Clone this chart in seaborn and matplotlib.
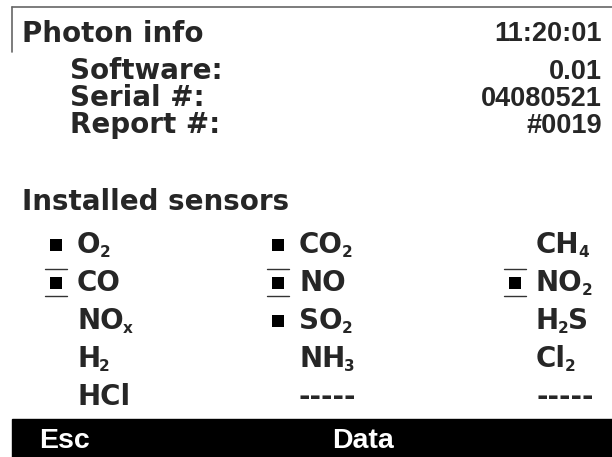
import matplotlib
matplotlib.use("Agg")
import matplotlib.pyplot as plt
import seaborn as sns
import pandas as pd

# screen texts
title = "Photon info"
clock = "11:20:01"
info_labels = ["Software:", "Serial #:", "Report #:"]
info_values = ["0.01", "04080521", "#0019"]
section = "Installed sensors"

# sensors, column by column (5 rows each); "_" marks a subscript character
sensor_names = ["O_2", "CO", "NO_x", "H_2", "HCl",
                "CO_2", "NO", "SO_2", "NH_3", "-----",
                "CH_4", "NO_2", "H_2S", "Cl_2", "-----"]
sensor_installed = [1, 1, 0, 0, 0,
                    1, 1, 1, 0, 0,
                    0, 1, 0, 0, 0]
sensor_selected = [0, 1, 0, 0, 0,
                   0, 1, 0, 0, 0,
                   0, 1, 0, 0, 0]
buttons = ["Esc", "Data"]

sns.set_theme(style="white")
plt.rcParams["font.family"] = ["DejaVu Sans"]
plt.rcParams["font.weight"] = "bold"

fig = plt.figure(figsize=(6.12, 4.57), dpi=100)
ax = fig.add_axes([0, 0, 1, 1])
ax.set_xlim(0, 612)
ax.set_ylim(457, 0)
ax.axis("off")
renderer = fig.canvas.get_renderer()

fs = 20
num_font = dict(family="Liberation Sans", fontsize=19.5, fontweight="bold")

# frame lines at the top
ax.plot([12, 612], [7, 7], color="#666666", lw=1.2)
ax.plot([12, 12], [7, 52], color="#666666", lw=1.2)

# header
ax.text(22, 42, title, fontsize=fs, fontweight="bold", va="baseline")
ax.text(602, 41, clock, va="baseline", ha="right", **num_font)
for i, (lab, val) in enumerate(zip(info_labels, info_values)):
    yb = 79 + 27 * i
    ax.text(70, yb, lab, fontsize=fs, fontweight="bold", va="baseline")
    ax.text(602, yb, val, va="baseline", ha="right", **num_font)

ax.text(22, 210, section, fontsize=fs, fontweight="bold", va="baseline")

# sensor grid
col_sq = [56, 278, 515]
row_c = [243, 281, 319, 357, 395]
df = pd.DataFrame({"name": sensor_names,
                   "installed": sensor_installed,
                   "selected": sensor_selected})
df["col"] = df.index // 5
df["row"] = df.index % 5
df["x"] = [col_sq[c] for c in df["col"]]
df["y"] = [row_c[r] + 2 for r in df["row"]]

sns.scatterplot(data=df[df["installed"] == 1], x="x", y="y", marker="s",
                s=70, color="black", edgecolor="none", legend=False, ax=ax)


def text_end(t):
    bb = t.get_window_extent(renderer=renderer)
    return bb.x1


for _, r in df.iterrows():
    x0 = r["x"] + 21
    yb = row_c[r["row"]] + 10
    name = r["name"]
    if "_" in name:
        base, rest = name.split("_", 1)
        sub, tail = rest[0], rest[1:]
    else:
        base, sub, tail = name, "", ""
    t = ax.text(x0, yb, base, fontsize=fs, fontweight="bold", va="baseline")
    if sub:
        ts = ax.text(text_end(t) - 1, yb + 4, sub, fontsize=11,
                     fontweight="bold", va="baseline")
        if tail:
            ax.text(text_end(ts) - 1, yb, tail, fontsize=fs, fontweight="bold",
                    va="baseline")
    if r["selected"]:
        for dy in (-14, 13):
            ax.plot([r["x"] - 11, r["x"] + 11], [r["y"] + dy, r["y"] + dy],
                    color="#333333", lw=1)

# soft-key bar
ax.add_patch(plt.Rectangle((12, 419), 600, 40, color="black", zorder=3))
ax.text(39, 448, buttons[0], color="white", va="baseline", zorder=4,
        family="Liberation Sans", fontsize=20.5, fontweight="bold")
ax.text(332, 448, buttons[1], color="white", va="baseline", zorder=4,
        family="Liberation Sans", fontsize=20.5, fontweight="bold")

ax.set_xlim(0, 612)
ax.set_ylim(457, 0)
ax.axis("off")

fig.savefig("out.png", dpi=100)
